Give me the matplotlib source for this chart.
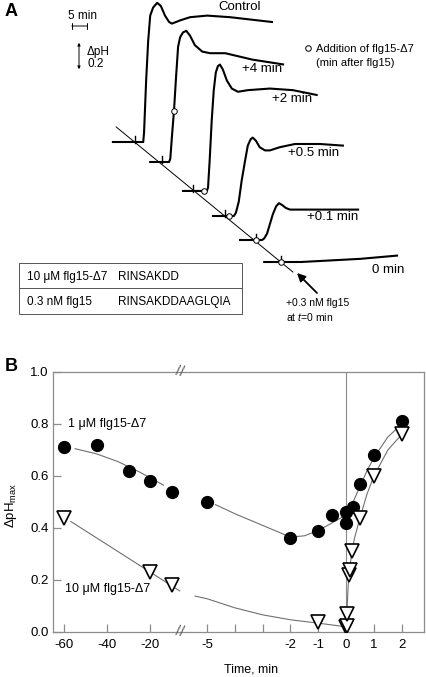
import numpy as np
import matplotlib
matplotlib.use("Agg")
import matplotlib.pyplot as plt
from matplotlib.patches import Rectangle

plt.rcParams["font.family"] = ["Liberation Sans", "DejaVu Sans"]
plt.rcParams["mathtext.fontset"] = "custom"
plt.rcParams["mathtext.rm"] = "Liberation Sans"
plt.rcParams["mathtext.it"] = "Liberation Sans:italic"

# ---- panel A: pH traces (min after flg15, delta pH above baseline) ----
trace_names = ["Control", "+4 min", "+2 min", "+0.5 min", "+0.1 min", "0 min"]
# where each trace sits on the diagonal (min, pH)
trace_off_t = [-35.6, -29.0, -21.5, -13.7, -6.1, 0.0]
trace_off_p = [0.75, 0.625, 0.444, 0.2875, 0.1375, 0.0]

ctrl_t = [-5.4, 2.0, 2.2, 2.7, 3.2, 3.7, 4.4, 5.4, 6.3, 7.3, 8.3, 9.0, 11.0, 13.4, 17.6, 23.2, 33.4]
ctrl_p = [0, 0, 0.06, 0.38, 0.63, 0.79, 0.84, 0.87, 0.85, 0.79, 0.75, 0.74, 0.76, 0.78, 0.79, 0.78, 0.75]
p4_t = [-2.9, 1.7, 2.0, 2.4, 2.9, 3.4, 3.9, 4.4, 5.1, 5.9, 6.8, 8.0, 9.8, 11.7, 15.4, 22.0, 29.5]
p4_p = [0, 0, 0.02, 0.16, 0.32, 0.53, 0.72, 0.78, 0.81, 0.82, 0.79, 0.73, 0.69, 0.68, 0.68, 0.64, 0.61]
p2_t = [-2.4, 3.4, 3.7, 4.1, 4.6, 5.1, 5.6, 6.1, 6.6, 7.3, 8.3, 9.5, 11.0, 13.4, 18.8, 24.4, 30.2]
p2_p = [0, 0, 0.02, 0.19, 0.44, 0.63, 0.74, 0.78, 0.79, 0.76, 0.69, 0.64, 0.62, 0.63, 0.64, 0.63, 0.60]
p05_t = [-2.9, 2.2, 2.7, 3.4, 4.1, 4.9, 5.6, 6.3, 6.8, 7.6, 8.5, 9.8, 11.0, 13.4, 17.1, 23.2, 28.8]
p05_p = [0, 0, 0.02, 0.09, 0.22, 0.34, 0.44, 0.48, 0.49, 0.47, 0.43, 0.41, 0.41, 0.43, 0.45, 0.45, 0.44]
p01_t = [-3.9, 1.5, 2.0, 2.7, 3.4, 4.1, 4.9, 5.6, 6.3, 7.3, 8.3, 11.0, 17.1, 24.9]
p01_p = [0, 0, 0.01, 0.04, 0.10, 0.16, 0.21, 0.23, 0.22, 0.20, 0.19, 0.19, 0.19, 0.19]
p0_t = [-4.1, 4.9, 12.2, 19.5, 28.3]
p0_p = [0, 0, 0.01, 0.02, 0.04]
traces_t = [ctrl_t, p4_t, p2_t, p05_t, p01_t, p0_t]
traces_p = [ctrl_p, p4_p, p2_p, p05_p, p01_p, p0_p]

# addition of flg15-delta7 (open circles), relative to each trace
add_t = [None, 2.9, 2.7, 1.0, 0.0, 0.0]
add_p = [None, 0.32, 0.0, 0.0, 0.0, 0.0]

diag_t = [-40.2, 2.9]
diag_p = [0.844, -0.0625]

# ---- panel B: delta pH max vs time ----
circ_x = [-60, -45, -30, -20, -10, -5, -2, -1, -0.5, 0, 0, 0.25, 0.5, 1, 2]
circ_y = [0.71, 0.72, 0.62, 0.58, 0.54, 0.50, 0.36, 0.39, 0.45, 0.46, 0.42, 0.48, 0.57, 0.68, 0.81]
tri_x = [-60, -20, -10, -1, 0, 0.02, 0.05, 0.1, 0.15, 0.2, 0.5, 1, 2]
tri_y = [0.44, 0.23, 0.18, 0.04, 0.02, 0.025, 0.07, 0.22, 0.24, 0.31, 0.44, 0.60, 0.76]

circ_fit1_x = [-55, -45, -35, -25, -14]
circ_fit1_y = [0.705, 0.685, 0.655, 0.615, 0.565]
circ_fit2_x = [-4.7, -4, -3, -2, -1.5, -1, -0.5, 0, 0.25, 0.5, 0.75, 1, 1.5, 2]
circ_fit2_y = [0.49, 0.455, 0.41, 0.365, 0.37, 0.39, 0.42, 0.45, 0.50, 0.56, 0.62, 0.67, 0.75, 0.80]
tri_fit1_x = [-57, -8.9]
tri_fit1_y = [0.425, 0.158]
tri_fit2_x = [-6.7, -5, -4, -3, -2, -1, 0]
tri_fit2_y = [0.138, 0.128, 0.093, 0.066, 0.047, 0.034, 0.02]
tri_fit3_x = [0, 0.03, 0.07, 0.12, 0.2, 0.3, 0.5, 0.75, 1, 1.5, 2]
tri_fit3_y = [0.02, 0.08, 0.17, 0.24, 0.30, 0.36, 0.44, 0.53, 0.60, 0.70, 0.76]

xticks = [-60, -40, -20, -5, -4, -3, -2, -1, 0, 1, 2]
xticklabels = ["-60", "-40", "-20", "-5", "", "", "-2", "-1", "0", "1", "2"]
yticks = [0.0, 0.2, 0.4, 0.6, 0.8, 1.0]

W, H = 427, 677
fig = plt.figure(figsize=(W / 100, H / 100), dpi=100)

# panel A axes in min / pH units
axA = fig.add_axes([0, 1 - 330 / H, 1, 330 / H])
axA.set_xlim(-281 / 4.1, (W - 281) / 4.1)
axA.set_ylim(-(330 - 262) / 160, 262 / 160)
axA.axis("off")


def pa(x, y):
    # pixel position of the figure -> panel A data units
    return (x - 281) / 4.1, (262 - y) / 160


axA.plot(diag_t, diag_p, color="k", lw=0.7)
for i in range(len(trace_names)):
    ox, oy = trace_off_t[i], trace_off_p[i]
    axA.plot(np.array(traces_t[i]) + ox, np.array(traces_p[i]) + oy,
             color="k", lw=1.5, solid_joinstyle="round")
    axA.plot([ox, ox], [oy - 0.005, oy + 0.035], color="k", lw=1.0)
    if add_t[i] is not None:
        axA.plot(ox + add_t[i], oy + add_p[i], "o", ms=4, mfc="white",
                 mec="k", mew=0.7)

label_px = [(218, 7), (242, 69), (272, 99), (288, 153), (307, 217), (372, 270)]
for name, (lx, ly) in zip(trace_names, label_px):
    axA.text(*pa(lx, ly), name, fontsize=9.5, ha="left", va="center")

axA.text(*pa(5, 12), "A", fontsize=13, fontweight="bold", ha="left", va="center")

# scale bars
sx, sy = pa(69, 26)
axA.annotate("", xy=(sx + 5, sy), xytext=(sx, sy),
             arrowprops=dict(arrowstyle="|-|", lw=0.7, mutation_scale=2.5))
axA.text(*pa(82, 16), "5 min", fontsize=8.5, ha="center", va="center")
bx, by = pa(79, 72)
axA.annotate("", xy=(bx, by + 0.2), xytext=(bx, by),
             arrowprops=dict(arrowstyle="<|-|>", lw=0.7, mutation_scale=4,
                             color="k"))
axA.text(*pa(87, 52), "ΔpH", fontsize=8.5, ha="left", va="center")
axA.text(*pa(87, 64), "0.2", fontsize=8.5, ha="left", va="center")

# circle legend
axA.plot(*pa(308, 48), "o", ms=4, mfc="white", mec="k", mew=0.7)
axA.text(*pa(316, 49), "Addition of flg15-Δ7", fontsize=8, ha="left", va="center")
axA.text(*pa(316, 63), "(min after flg15)", fontsize=8, ha="left", va="center")

# peptide table
x0, y0 = pa(19, 314)
x1, y1 = pa(242, 263)
axA.add_patch(Rectangle((x0, y0), x1 - x0, y1 - y0, fill=False,
                        ec="#555555", lw=0.7))
axA.plot([x0, x1], [pa(0, 288)[1]] * 2, color="#555555", lw=0.7)
axA.text(*pa(27, 277), "10 μM flg15-Δ7", fontsize=8.5, ha="left", va="center")
axA.text(*pa(118, 277), "RINSAKDD", fontsize=8.5, ha="left", va="center")
axA.text(*pa(27, 302), "0.3 nM flg15", fontsize=8.5, ha="left", va="center")
axA.text(*pa(118, 302), "RINSAKDDAAGLQIA", fontsize=8.5, ha="left", va="center")

axA.annotate("", xy=pa(297, 273), xytext=pa(317, 293),
             arrowprops=dict(arrowstyle="-|>", lw=1.3, color="k",
                             mutation_scale=12, shrinkA=0, shrinkB=0))
axA.text(*pa(286, 303), "+0.3 nM flg15", fontsize=7.5, ha="left", va="center")
axA.text(*pa(286, 317), "at $t$=0 min", fontsize=7.5, ha="left", va="center")

# ---- panel B ----
axB = fig.add_axes([53 / W, (H - 632) / H, 371 / W, 260 / H])
knots_x = [-100, -10, -5, 10]
knots_p = [172 - 90 * 2.15, 172, 207, 207 + 15 * 27.8]


def fwd(x):
    return np.interp(x, knots_x, knots_p)


def inv(p):
    return np.interp(p, knots_p, knots_x)


axB.set_xscale("function", functions=(fwd, inv))
axB.set_xlim(-65.3, 2.8)
axB.set_ylim(0, 1.0)

gray = "#8c8c8c"
fitc = "#707070"
axB.axvline(0, color=gray, lw=0.8)
for fx, fy in [(circ_fit1_x, circ_fit1_y), (circ_fit2_x, circ_fit2_y),
               (tri_fit1_x, tri_fit1_y), (tri_fit2_x, tri_fit2_y),
               (tri_fit3_x, tri_fit3_y)]:
    axB.plot(fx, fy, color=fitc, lw=0.8)

axB.plot(circ_x, circ_y, "o", ms=8.5, color="k", ls="none", zorder=3)
axB.plot(tri_x, tri_y, "v", ms=9.5, mfc="white", mec="k", mew=1.2,
         ls="none", zorder=4)

axB.set_xticks(xticks)
axB.set_xticklabels(xticklabels)
axB.set_yticks(yticks)
axB.set_yticklabels(["%.1f" % v for v in yticks])
axB.xaxis.set_minor_locator(matplotlib.ticker.NullLocator())
for sp in axB.spines.values():
    sp.set_color(gray)
    sp.set_linewidth(0.9)
axB.tick_params(direction="in", length=6, width=0.9, color=gray,
                labelsize=9.5, labelcolor="k")
axB.tick_params(axis="x", pad=5)
axB.tick_params(axis="y", pad=3)

# axis break marks
for yb in (0.0, 1.0):
    axB.text(-8.86, yb, "//", fontsize=11, color="#606060", ha="center",
             va="center", clip_on=False, rotation=-10)

axB.text(-58.4, 0.8, "1 μM flg15-Δ7", fontsize=9, ha="left", va="center")
axB.text(-59.8, 0.165, "10 μM flg15-Δ7", fontsize=9, ha="left", va="center")

fig.text(251 / W, 1 - 670 / H, "Time, min", fontsize=9, ha="center", va="center")
fig.text(11 / W, 1 - 505 / H, r"ΔpH$_{\rm max}$", fontsize=9.5, rotation=90,
         ha="center", va="center")
fig.text(5 / W, 1 - 367 / H, "B", fontsize=13, fontweight="bold",
         ha="left", va="center")

fig.savefig("out.png", dpi=100)
